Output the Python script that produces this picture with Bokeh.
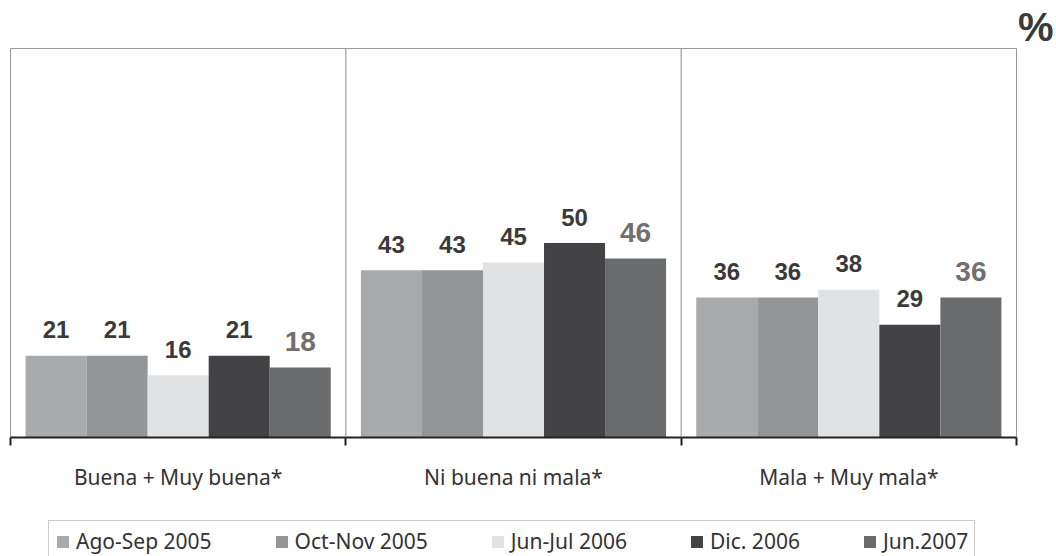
from bokeh.plotting import figure
from bokeh.layouts import column
from bokeh.models import FixedTicker, Span, Legend, LegendItem, ColumnDataSource, Range1d
from bokeh.core.properties import value
from bokeh.embed import file_html
from bokeh.resources import INLINE

categories = ["Buena + Muy buena*", "Ni buena ni mala*", "Mala + Muy mala*"]
series = ["Ago-Sep 2005", "Oct-Nov 2005", "Jun-Jul 2006", "Dic. 2006", "Jun.2007"]
ago_sep_2005 = [21, 43, 36]
oct_nov_2005 = [21, 43, 36]
jun_jul_2006 = [16, 45, 38]
dic_2006 = [21, 50, 29]
jun_2007 = [18, 46, 36]
series_values = [ago_sep_2005, oct_nov_2005, jun_jul_2006, dic_2006, jun_2007]

bar_colors = ["#a8aaac", "#939597", "#e1e2e3", "#434345", "#6a6b6d"]
label_colors = ["#3a3a3a", "#3a3a3a", "#3a3a3a", "#3a3a3a", "#707070"]
label_sizes = ["24px", "24px", "24px", "24px", "28px"]

BAR_W = 0.182
W = 1056

p = figure(width=W, height=519, x_range=Range1d(0, 3), y_range=Range1d(0, 100),
           output_backend="svg", toolbar_location=None, y_axis_location=None,
           min_border_left=10, min_border_right=40, min_border_top=48, min_border_bottom=82,
           title="%", title_location="above")
p.title.align = "right"
p.title.offset = -37
p.title.standoff = 0
p.title.text_font = "Liberation Sans"
p.title.text_font_style = "bold"
p.title.text_font_size = "40px"
p.title.text_color = "#3a3a3a"

p.grid.visible = False
p.outline_line_color = "#9a9a9a"
p.outline_line_width = 1
p.background_fill_color = "white"
p.border_fill_color = "white"

xa = p.xaxis[0]
xa.ticker = FixedTicker(ticks=[0.5, 1.5, 2.5], minor_ticks=[0, 1, 2, 3])
xa.major_label_overrides = {0.5: categories[0], 1.5: categories[1], 2.5: categories[2]}
xa.major_tick_out = 0
xa.major_tick_in = 0
xa.minor_tick_out = 8
xa.minor_tick_in = 0
xa.minor_tick_line_color = "#222222"
xa.minor_tick_line_width = 2
xa.axis_line_color = "#222222"
xa.axis_line_width = 2
xa.major_label_standoff = 17
xa.major_label_text_font = "Noto Sans"
xa.major_label_text_font_size = "21px"
xa.major_label_text_color = "#333333"

for xs in [1, 2]:
    p.add_layout(Span(location=xs, dimension="height", line_color="#8a8a8a", line_width=1))

# legend strip (same data, drawn outside its visible y window so only the legend shows)
pl = figure(width=W, height=37, x_range=Range1d(0, 3), y_range=Range1d(200, 300),
            output_backend="svg", toolbar_location=None,
            x_axis_location=None, y_axis_location=None,
            min_border_left=0, min_border_right=0, min_border_top=0, min_border_bottom=0)
pl.grid.visible = False
pl.outline_line_color = None
pl.border_fill_color = "white"

items = []
for j, (name, vals) in enumerate(zip(series, series_values)):
    xpos = [i + 0.5 + (j - 2) * BAR_W for i in range(len(categories))]
    src = ColumnDataSource(dict(x=xpos, top=vals, txt=[str(v) for v in vals]))
    p.vbar(x="x", top="top", bottom=0, width=BAR_W, source=src,
           fill_color=bar_colors[j], line_color=None)
    p.text(x="x", y="top", text="txt", source=src, text_align="center",
           text_baseline="alphabetic", y_offset=-26,
           text_font=value("Liberation Sans"), text_font_style="bold",
           text_font_size=label_sizes[j], text_color=label_colors[j])
    r = pl.vbar(x="x", top="top", bottom=0, width=BAR_W, source=src,
                fill_color=bar_colors[j], line_color=None)
    items.append(LegendItem(label=name, renderers=[r]))

legend = Legend(items=items, orientation="horizontal", location=(38, -6),
                border_line_color="#9a9a9a", border_line_width=1, padding=6, spacing=62,
                label_standoff=6, glyph_width=15, glyph_height=15, margin=0,
                label_text_font="Noto Sans", label_text_font_size="21px",
                label_text_color="#333333", background_fill_color="white",
                background_fill_alpha=1)
pl.add_layout(legend)

layout = column(p, pl, spacing=0)
open("out.html", "w").write(file_html(layout, INLINE))
